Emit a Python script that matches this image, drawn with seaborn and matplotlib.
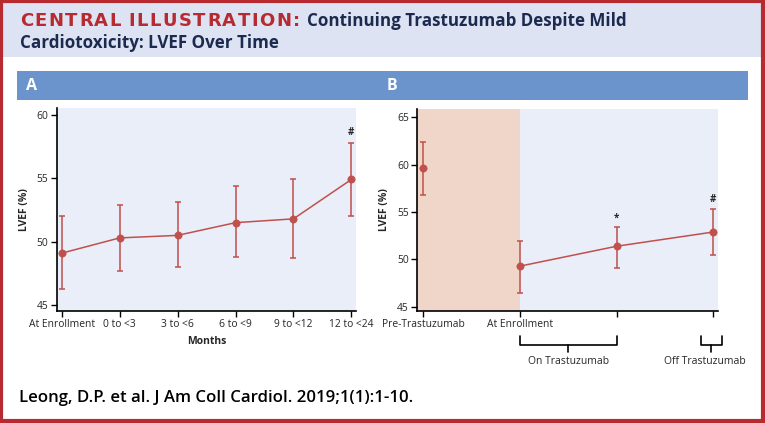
import matplotlib
matplotlib.use("Agg")
import matplotlib.pyplot as plt
import seaborn as sns
import pandas as pd
from matplotlib.patches import Rectangle

# Data panel A: LVEF over months
labels_a = ["At Enrollment", "0 to <3", "3 to <6", "6 to <9", "9 to <12", "12 to <24"]
mean_a = [49.1, 50.3, 50.5, 51.5, 51.8, 54.9]
low_a = [46.3, 47.7, 48.0, 48.8, 48.7, 52.0]
high_a = [52.0, 52.9, 53.1, 54.4, 54.9, 57.8]

# Data panel B: pre / enrollment / on / off trastuzumab
labels_b = ["Pre-Trastuzumab", "At Enrollment", "", ""]
mean_b = [59.6, 49.3, 51.4, 52.9]
low_b = [56.8, 46.5, 49.1, 50.5]
high_b = [62.4, 52.0, 53.4, 55.3]
marks_b = ["", "", "*", "#"]

RED = "#c0504d"
BG = "#eaeef8"
ORANGE = "#f0d6c9"
NAVY = "#1b2a4e"
BORDER = "#b72a30"
HEAD = "#6b93cc"

sns.set_theme(style="ticks")
plt.rcParams["font.family"] = ["Open Sans", "DejaVu Sans"]

W, H = 765, 423
fig = plt.figure(figsize=(W / 100, H / 100), dpi=100)
fig.patch.set_facecolor("white")
renderer = fig.canvas.get_renderer()

# overlay in pixel coords for decorations
deco = fig.add_axes([0, 0, 1, 1], zorder=0)
deco.set_xlim(0, W)
deco.set_ylim(H, 0)
deco.axis("off")
deco.add_patch(Rectangle((0, 0), W, 57, color="#dde3f3", lw=0))
deco.add_patch(Rectangle((17, 71), 731, 29, color=HEAD, lw=0))
deco.add_patch(Rectangle((1.5, 1.5), W - 3, H - 3, fill=False, ec=BORDER, lw=3))


def fit_size(s, width, size, **kw):
    # font size at which the text spans the wanted pixel width
    t = deco.text(0, 0, s, fontsize=size, **kw)
    w = t.get_window_extent(renderer).width
    t.remove()
    return size * width / w


def spaced_text(x, y, s, width, size, **kw):
    # letter-spaced text spanning the wanted width
    parts = []
    widths = []
    for ch in s:
        t = deco.text(0, y, ch, fontsize=size, va="baseline", ha="left", **kw)
        w = t.get_window_extent(renderer).width if ch != " " else size * 0.35
        parts.append(t)
        widths.append(w)
    gap = (width - sum(widths)) / (len(s) - 1)
    pos = x
    for t, w in zip(parts, widths):
        t.set_x(pos)
        pos += w + gap


title1 = "Continuing Trastuzumab Despite Mild"
title2 = "Cardiotoxicity: LVEF Over Time"
ts = (fit_size(title1, 291, 12.5, fontweight="bold") + fit_size(title2, 282, 12.5, fontweight="bold")) / 2

spaced_text(20, 26, "CENTRAL ILLUSTRATION:", 280, 13, color=BORDER,
            fontweight="bold", family="DejaVu Sans")
deco.text(307, 26, title1, fontsize=ts, color=NAVY, fontweight="bold", va="baseline")
deco.text(20, 48, title2, fontsize=ts, color=NAVY, fontweight="bold", va="baseline")
deco.text(26, 86, "A", color="white", fontsize=11.5, fontweight="bold", va="center")
deco.text(387, 86, "B", color="white", fontsize=11.5, fontweight="bold", va="center")
cite = "Leong, D.P. et al. J Am Coll Cardiol. 2019;1(1):1-10."
deco.text(19, 402, cite, fontsize=fit_size(cite, 394, 11.5, fontweight="semibold"),
          color="black", fontweight="semibold", va="baseline")


def style_axes(ax):
    ax.set_facecolor(BG)
    sns.despine(ax=ax)
    for s in ["left", "bottom"]:
        ax.spines[s].set_linewidth(1.2)
        ax.spines[s].set_color("black")
    ax.tick_params(axis="both", length=4, width=1, labelsize=7.4, pad=2, color="black")


def draw_series(ax, x, mean, low, high, line_mask=None):
    df = pd.DataFrame({"x": x, "y": mean})
    if line_mask is None:
        sns.lineplot(data=df, x="x", y="y", color=RED, lw=1.1, ax=ax)
    else:
        sns.lineplot(data=df[line_mask], x="x", y="y", color=RED, lw=1.1, ax=ax)
    sns.scatterplot(data=df, x="x", y="y", color=RED, s=28, edgecolor=RED, zorder=4, ax=ax)
    yerr = [[m - l for m, l in zip(mean, low)], [h - m for m, h in zip(mean, high)]]
    ax.errorbar(x, mean, yerr=yerr, fmt="none", ecolor=RED, elinewidth=1.1,
                capsize=2, capthick=1.1, zorder=3)


# Panel A
axA = fig.add_axes([0.0741, 0.2648, 0.3913, 0.4792], zorder=2)
style_axes(axA)
xa = list(range(len(labels_a)))
draw_series(axA, xa, mean_a, low_a, high_a)
axA.set_xlim(-0.086, 5.08)
axA.set_ylim(44.55, 60.5)
axA.set_yticks([45, 50, 55, 60])
axA.set_xticks(xa)
axA.set_xticklabels(labels_a)
axA.set_xlabel("Months", fontsize=7.5, fontweight="bold", labelpad=4)
axA.set_ylabel("LVEF (%)", fontsize=7.5, fontweight="bold", labelpad=5)
axA.text(5, high_a[5] + 0.35, "#", ha="center", va="bottom", fontsize=7, fontweight="bold")

# Panel B
axB = fig.add_axes([0.5455, 0.2655, 0.3927, 0.4761], zorder=2)
style_axes(axB)
xb = list(range(len(labels_b)))
axB.axvspan(-0.1, 1, color=ORANGE, lw=0, zorder=0)
draw_series(axB, xb, mean_b, low_b, high_b, line_mask=[False, True, True, True])
axB.set_xlim(-0.062, 3.045)
axB.set_ylim(44.6, 65.84)
axB.set_yticks([45, 50, 55, 60, 65])
axB.set_xticks(xb)
axB.set_xticklabels(labels_b)
axB.set_xlabel("")
axB.set_ylabel("LVEF (%)", fontsize=7.5, fontweight="bold", labelpad=5)
for xi, hi, mk in zip(xb, high_b, marks_b):
    if mk:
        axB.text(xi, hi + 0.4, mk, ha="center", va="bottom", fontsize=7, fontweight="bold")


# brackets below panel B (in pixel coords)
def bracket(x0, x1, xc, y_top, y_bar, y_stem, text, tx):
    deco.plot([x0, x0, x1, x1], [y_top, y_bar, y_bar, y_top], color="black", lw=1.2)
    deco.plot([xc, xc], [y_bar, y_stem], color="black", lw=1.2)
    deco.text(tx, y_stem + 10, text, ha="center", va="center", fontsize=7.5)


bracket(520, 616.7, 568.3, 336, 345, 352, "On Trastuzumab", 568.3)
bracket(700.7, 722.3, 711, 336, 345, 352, "Off Trastuzumab", 705)

fig.savefig("out.png", dpi=100)
